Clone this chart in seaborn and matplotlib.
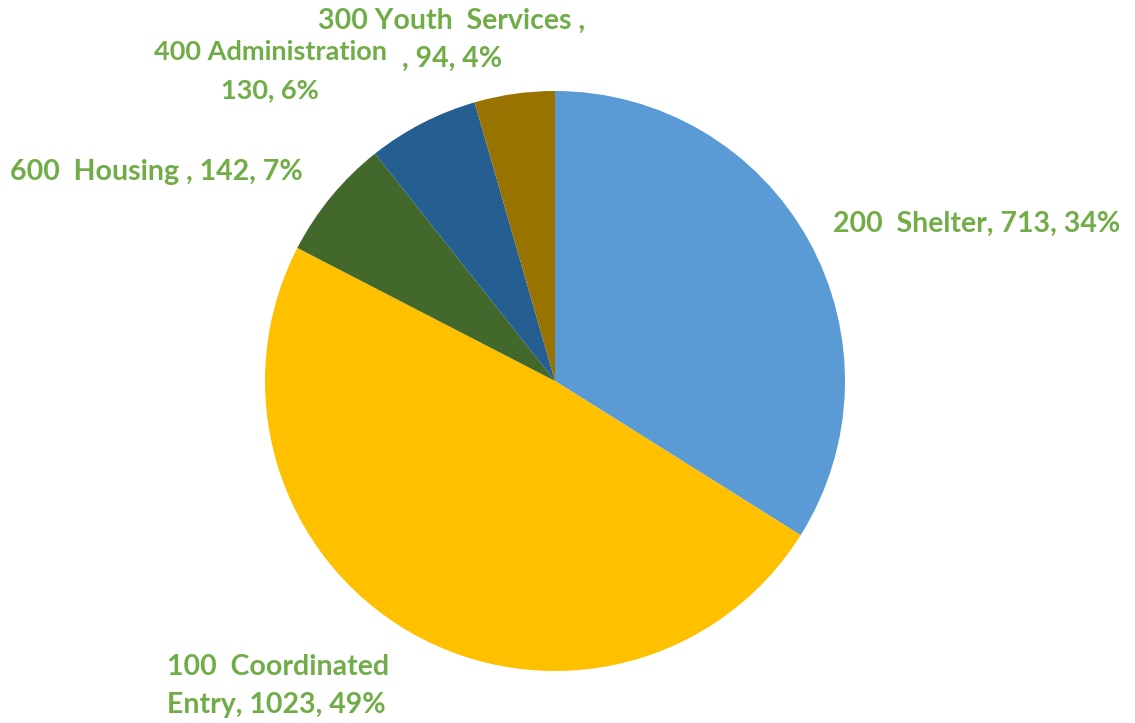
import matplotlib
matplotlib.use("Agg")
import matplotlib.pyplot as plt
import seaborn as sns

# Program budget by department
departments = ["200  Shelter", "100  Coordinated\nEntry", "600  Housing ", "400 Administration\n", "300 Youth  Services ,\n"]
amounts = [713, 1023, 142, 130, 94]
separators = [", ", ", ", ", ", "", ""]
slice_colors = ["#5B9BD5", "#FFC000", "#43682B", "#255E91", "#997300"]

sns.set_theme(style="white")
plt.rcParams["font.family"] = ["Lato", "DejaVu Sans"]

W, H = 1135, 723
fig = plt.figure(figsize=(W / 100, H / 100), dpi=100)
ax = fig.add_axes([0, 0, 1, 1])

ax.pie(amounts, colors=slice_colors, startangle=90, counterclock=False,
       center=(555, H - 381), radius=290, frame=True,
       wedgeprops=dict(linewidth=0))
ax.set_xlim(0, W)
ax.set_ylim(0, H)
ax.axis("off")

total = sum(amounts)
# anchor of the first line of each label (pixels from top-left), alignment
label_pos = [(833, 224, "left"), (167, 667, "left"), (10, 172, "left"),
             (270, 52, "center"), (452, 21, "center")]
sizes = [20.5, 20.5, 20.5, 19.5, 20.5]
line_step = 38
for name, sep, val, (x, y, ha), fs in zip(departments, separators, amounts, label_pos, sizes):
    pct = round(100 * val / total)
    if name.endswith(",\n"):
        text = f"{name}, {val}, {pct}%"
    else:
        text = f"{name}{sep}{val}, {pct}%"
    # each line is its own text object so neighbouring labels can nest closely
    for i, line in enumerate(text.split("\n")):
        ax.text(x, H - (y + i * line_step), line, ha=ha, va="center",
                color="#70AD47", fontsize=fs, fontweight="bold")

fig.savefig("out.png", dpi=100)
